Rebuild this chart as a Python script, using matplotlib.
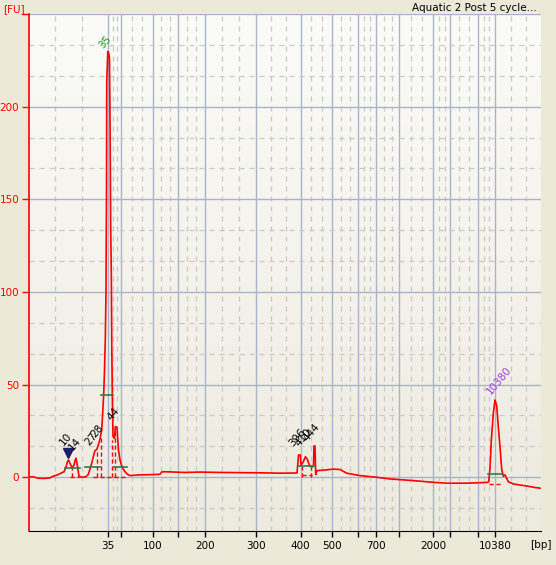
import numpy as np
import matplotlib
matplotlib.use("Agg")
import matplotlib.pyplot as plt
from matplotlib.colors import LinearSegmentedColormap

plt.rcParams['font.family'] = ['DejaVu Sans']

# ladder: fragment size (bp) and migration time (s)
ladder_bp = [35, 50, 100, 150, 200, 300, 400, 500, 600, 700, 1000, 2000, 3000, 7000, 10380]
ladder_time = [49.91, 51.54, 55.46, 58.66, 62.04, 68.34, 73.96, 77.91, 81.16, 83.41,
               86.29, 90.5, 92.66, 96.09, 98.29]
ladder_shown = ['35', '', '100', '', '200', '300', '400', '500', '', '700',
                '', '2000', '', '', '10380']

# electropherogram trace (time s, fluorescence FU)
trace_time = [40.0, 40.5, 41.125, 42.0, 42.625, 43.0, 43.5, 44.0, 44.375, 44.625, 44.81, 44.94,
              45.125, 45.375, 45.625, 45.75, 45.875, 46.06, 46.25, 46.625, 47.125, 47.41, 47.625,
              47.84, 48.06, 48.25, 48.46, 48.66, 48.875, 49.09, 49.21, 49.34, 49.44, 49.54,
              49.625, 49.69, 49.72, 49.85, 49.96, 50.06, 50.15, 50.21, 50.29, 50.35, 50.41,
              50.5, 50.69, 50.79, 51.0, 51.1, 51.19, 51.375, 51.59, 51.81, 52.0, 52.31, 52.625,
              53.875, 55.125, 56.375, 56.625, 57.625, 59.5, 61.375, 63.875, 66.375, 68.875,
              71.375, 73.5, 73.69, 73.91, 74.0, 74.25, 74.56, 74.81, 75.04, 75.34, 75.56,
              75.625, 75.75, 75.84, 76.0, 77.0, 78.0, 78.875, 79.71, 81.375, 83.46, 85.125,
              88.04, 90.125, 92.21, 94.71, 97.21, 97.46, 97.625, 97.79, 98.04, 98.25, 98.46,
              98.66, 98.875, 99.09, 99.29, 99.5, 99.91, 100.54, 101.375, 102.21, 103.04, 103.875]
trace_fu = [0.2, 0.3, -0.5, -0.6, -0.3, 0.5, 1.2, 2.2, 3.0, 5.5, 8.5, 9.3,
            7.5, 5.2, 6.5, 9.0, 10.3, 6.0, 0.5, 0.0, 0.3, 1.5, 4.5,
            7.6, 11.5, 14.4, 14.9, 17.4, 20.5, 25.5, 34.6, 45.0, 58.0, 75.0,
            100.0, 158.0, 214.0, 229.8, 229.0, 225.7, 180.0, 135.0, 110.0, 70.0, 45.0,
            22.0, 21.0, 27.3, 27.0, 20.0, 14.7, 9.3, 6.1, 4.2, 3.0, 1.6, 0.9,
            1.3, 1.4, 1.6, 3.0, 2.9, 2.6, 2.8, 2.6, 2.5, 2.4,
            2.2, 2.3, 12.0, 12.0, 6.5, 8.0, 11.1, 9.5, 6.6, 5.5, 6.0,
            16.9, 16.9, 1.5, 3.6, 3.9, 4.4, 4.2, 2.2, 0.9, 0.0, -0.9,
            -1.8, -2.6, -3.2, -3.2, -2.8, -2.5, 4.9, 20.0, 34.6, 41.7, 38.7,
            27.3, 16.5, 4.3, 0.5, 1.3, -2.4, -3.6, -4.2, -4.7, -5.4, -5.9]

# peak calls: label, anchor time, anchor FU, colour
peak_labels = ['10', '14', '27', '28', '35', '44', '396', '410', '444', '10380']
peak_time = [44.5, 45.625, 47.75, 48.5, 49.5, 50.5, 73.25, 74.0, 75.0, 97.9]
peak_fu = [16.4, 13.4, 16.4, 20.5, 230.5, 29.5, 15.5, 15.5, 18.5, 43.5]
peak_colors = ['black', 'black', 'black', 'black', '#1a9a1a', 'black',
               'black', 'black', 'black', '#9a3cf0']

# peak baselines (start, end, FU)
base_start = [44.5, 47.0, 49.0, 50.625, 73.66, 97.41]
base_end = [46.375, 48.875, 50.54, 52.25, 75.75, 99.16]
base_fu = [4.9, 5.6, 44.3, 5.6, 5.9, 1.6]

# peak boundaries (time, top FU)
cut_time = [45.41, 48.44, 49.0, 50.41, 50.75, 74.09, 75.31]
cut_top = [5.2, 14.9, 22.0, 20.0, 27.0, 6.6, 6.0]

marker_time, marker_fu = 44.85, 13.0

x_min, x_max = 40, 104
y_min, y_max = -29, 250

fig = plt.figure(figsize=(5.56, 5.65), dpi=100)
fig.patch.set_facecolor('#ECE9D8')
rect = [29 / 556, 34 / 565, 512 / 556, 517 / 565]

bg = fig.add_axes(rect, zorder=-1)
grad = np.linspace(0, 1, 256).reshape(-1, 1)
cmap = LinearSegmentedColormap.from_list('bg', ['#FBFBF8', '#EDEADF'])
bg.imshow(grad, aspect='auto', cmap=cmap, extent=[0, 1, 0, 1])
bg.axis('off')

ax = fig.add_axes(rect)
ax.set_facecolor('none')
ax.set_xlim(x_min, x_max)
ax.set_ylim(y_min, y_max)

# grid
major_col = '#A9B4CA'
minor_col = '#C9C9C6'
edges = [x_min] + ladder_time + [x_max]
for a, b in zip(edges[:-1], edges[1:]):
    for k in (1, 2):
        ax.axvline(a + (b - a) * k / 3, color=minor_col, lw=0.9, ls=(0, (4, 4)), zorder=1)
for t in ladder_time:
    ax.axvline(t, color=major_col, lw=1.0, zorder=1)
for y in np.arange(-50, y_max + 1, 50):
    for k in (1, 2):
        yy = y + 50 * k / 3
        if y_min < yy < y_max:
            ax.axhline(yy, color=minor_col, lw=0.9, ls=(0, (4, 4)), zorder=1)
    if y_min < y <= y_max:
        ax.axhline(y, color=major_col, lw=1.0, zorder=1)

# integration helpers
for t, top in zip(cut_time, cut_top):
    ax.plot([t, t], [0.3, top], color='red', lw=1.0, ls=(0, (3, 2)), zorder=2)
ax.plot([45.1, 46.3], [0.3, 0.3], color='red', lw=1.0, ls=(0, (3, 2)), zorder=2)
ax.plot([48.0, 52.2], [0.3, 0.3], color='red', lw=1.0, ls=(0, (3, 2)), zorder=2)
ax.plot([74.1, 75.4], [1.2, 1.2], color='red', lw=1.0, ls=(0, (3, 2)), zorder=2)
ax.plot([97.5, 99.2], [-3.8, -3.8], color='red', lw=1.0, ls=(0, (3, 2)), zorder=2)
for s, e, y in zip(base_start, base_end, base_fu):
    ax.plot([s, e], [y, y], color='#2a7d55', lw=1.2, zorder=4)

ax.plot(trace_time, trace_fu, color='red', lw=1.2, zorder=3)
ax.plot(marker_time, marker_fu, marker='v', color='#1c1c70', ms=7, zorder=5)

for lab, t, y, c in zip(peak_labels, peak_time, peak_fu, peak_colors):
    ax.text(t, y, lab, color=c, fontsize=7.5, rotation=50, rotation_mode='anchor',
            ha='left', va='bottom', zorder=6)

# axes styling
for s in ('top', 'right'):
    ax.spines[s].set_visible(False)
ax.spines['left'].set_color('red')
ax.spines['left'].set_linewidth(1.2)
ax.spines['bottom'].set_color('black')

ax.set_xticks(ladder_time)
ax.set_xticklabels(ladder_shown)
ax.set_yticks([0, 50, 100, 150, 200, 250])
ax.set_yticklabels(['0', '50', '100', '150', '200', ''])
ax.tick_params(axis='y', colors='red', length=5, width=1, labelsize=7.5, pad=2)
ax.tick_params(axis='x', colors='black', length=4.5, width=1, labelsize=7.5, pad=3)

ax.text(-0.008, y_max, '[FU]', transform=ax.get_yaxis_transform(), color='red',
        fontsize=7.5, ha='right', va='bottom')
ax.text(1.0, -0.027, '[bp]', transform=ax.transAxes, fontsize=7.5, ha='center', va='center')
fig.text(537 / 556, 1 - 8 / 565, 'Aquatic 2 Post 5 cycle...', fontsize=7.5,
         ha='right', va='center')

fig.savefig('out.png', dpi=100, facecolor=fig.get_facecolor())
